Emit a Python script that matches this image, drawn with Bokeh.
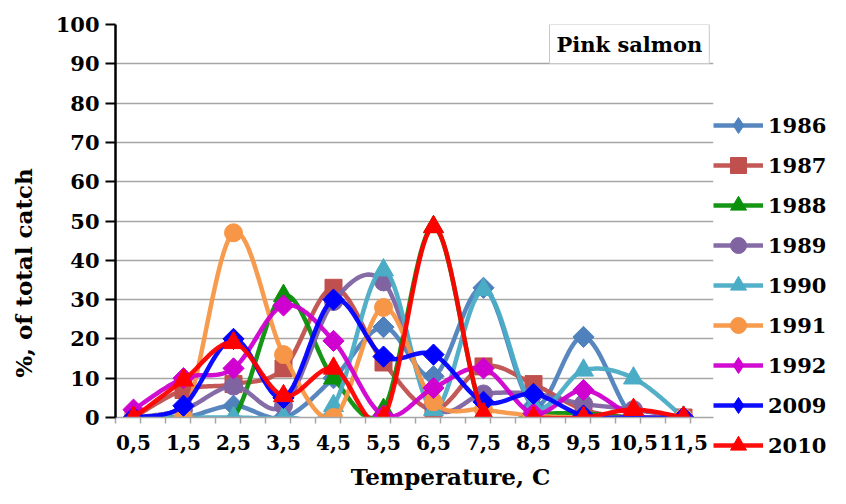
import numpy as np
from bokeh.plotting import figure
from bokeh.models import (Range1d, FixedTicker, Legend, LegendItem, Label)
from bokeh.embed import file_html
from bokeh.resources import INLINE

# ---------------- data ----------------
temperatures = ["0,5", "1,5", "2,5", "3,5", "4,5", "5,5", "6,5", "7,5", "8,5", "9,5", "10,5", "11,5"]
years = ["1986", "1987", "1988", "1989", "1990", "1991", "1992", "2009", "2010"]

y1986 = [0, 0, 3, 0, 10, 23, 10.5, 33, 3, 20.5, 0, 0]
y1987 = [0, 7, 8.5, 12.5, 33, 14, 2, 13, 8.5, 2, 0, 0]
y1988 = [0, 0, 0, 31, 10, 2, 48.5, 1, 1, 1, 0, 0]
y1989 = [0, 2, 8, 3, 29.5, 34.5, 3, 6, 6, 3.5, 2, 0]
y1990 = [0, 0, 0, 0, 3, 37.5, 2, 32.5, 3, 12, 10, 0]
y1991 = [0, 0, 47, 16, 0, 28, 4, 2, 0.5, 0, 0, 0]
y1992 = [2, 10, 12.5, 28.5, 19.5, 0.5, 7.5, 12.5, 1, 7, 0.5, 0]
y2009 = [0, 3, 20, 5, 30, 15.5, 16, 4, 6, 0.5, 0, 0]
y2010 = [0, 9.5, 19, 5.5, 12.5, 0, 48.5, 1, 0, 0, 2, 0]

series = [y1986, y1987, y1988, y1989, y1990, y1991, y1992, y2009, y2010]
colors = ["#4F81BD", "#C0504D", "#0A900A", "#8064A2", "#4BACC6", "#F79646", "#D000D0", "#0000FF", "#FF0000"]
markers = ["diamond", "square", "triangle", "circle", "triangle", "circle", "diamond", "diamond", "triangle"]
msizes = [15, 17, 20, 18, 20, 18, 15, 15, 20]

FONT = "DejaVu Serif"
NB = "\u00a0"


def smooth(xs, ys, n=20):
    pts = np.column_stack([xs, ys]).astype(float)
    out = [pts[0]]
    m = len(pts)
    for i in range(m - 1):
        p0 = pts[i - 1] if i > 0 else pts[i]
        p1 = pts[i]
        p2 = pts[i + 1]
        p3 = pts[i + 2] if i + 2 < m else pts[i + 1]
        c1 = p1 + (p2 - p0) / 6.0
        c2 = p2 - (p3 - p1) / 6.0
        t = np.linspace(0, 1, n + 1)[1:, None]
        seg = ((1 - t) ** 3) * p1 + 3 * ((1 - t) ** 2) * t * c1 + 3 * (1 - t) * t ** 2 * c2 + t ** 3 * p2
        out.extend(seg)
    out = np.array(out)
    return out[:, 0], out[:, 1]


xidx = np.arange(len(temperatures))

p = figure(width=846, height=504, frame_width=598, frame_height=393,
           output_backend="svg", toolbar_location=None,
           x_range=Range1d(-0.36, 11.6), y_range=Range1d(0, 100),
           min_border_left=115, min_border_right=133, min_border_top=24, min_border_bottom=87)
p.extra_y_ranges = {"legend_only": Range1d(1000, 1100)}
p.outline_line_color = None
p.background_fill_color = "white"

# grid
p.xgrid.grid_line_color = None
p.ygrid.grid_line_color = "#A6A6A6"
p.ygrid.grid_line_width = 1.5
p.ygrid.ticker = FixedTicker(ticks=list(range(0, 101, 10)))

# y axis
p.yaxis.ticker = FixedTicker(ticks=list(range(0, 101, 10)))
p.yaxis.axis_line_color = "black"
p.yaxis.axis_line_width = 2.5
p.yaxis.major_tick_line_color = "black"
p.yaxis.major_tick_line_width = 2
p.yaxis.major_tick_out = 10
p.yaxis.major_tick_in = 0
p.yaxis.minor_tick_line_color = None
p.yaxis.major_label_text_font = FONT
p.yaxis.major_label_text_font_style = "bold"
p.yaxis.major_label_text_font_size = "21px"
p.yaxis.major_label_text_color = "black"
p.yaxis.major_label_standoff = 6
p.yaxis.axis_label = "%, of total catch" + NB * 13
p.yaxis.axis_label_text_font = FONT
p.yaxis.axis_label_text_font_style = "bold"
p.yaxis.axis_label_text_font_size = "23px"
p.yaxis.axis_label_text_color = "black"
p.yaxis.axis_label_standoff = 16

# x axis
minor = list(np.round(np.arange(-0.36, 11.61, 0.5), 3))
p.xaxis.ticker = FixedTicker(ticks=list(xidx), minor_ticks=minor)
p.xaxis.major_label_overrides = {int(i): t for i, t in zip(xidx, temperatures)}
p.xaxis.axis_line_color = "#A6A6A6"
p.xaxis.axis_line_width = 1.5
p.xaxis.major_tick_line_color = None
p.xaxis.minor_tick_line_color = "#A6A6A6"
p.xaxis.minor_tick_line_width = 1.5
p.xaxis.minor_tick_out = 6
p.xaxis.minor_tick_in = 0
p.xaxis.major_label_text_font = FONT
p.xaxis.major_label_text_font_style = "bold"
p.xaxis.major_label_text_font_size = "20px"
p.xaxis.major_label_text_color = "black"
p.xaxis.major_label_standoff = 11
p.xaxis.axis_label = NB * 9 + "Temperature, C"
p.xaxis.axis_label_text_font = FONT
p.xaxis.axis_label_text_font_style = "bold"
p.xaxis.axis_label_text_font_size = "23px"
p.xaxis.axis_label_text_color = "black"
p.xaxis.axis_label_standoff = 10

items = []
for yr, ys, c, mk, ms in zip(years, series, colors, markers, msizes):
    sx, sy = smooth(xidx, ys)
    lr = p.line(sx, sy, line_color=c, line_width=4.5, line_alpha=0.95)
    if mk == "diamond":
        # rotated square = Excel-style diamond in the plot
        p.scatter(xidx, ys, marker="square", angle=np.pi / 4, size=ms, fill_color=c, line_color=c)
        # diamond marker used only for the legend swatch (its range puts it off-frame)
        lg = p.scatter(xidx, ys, marker="diamond", size=24, fill_color=c, line_color=c,
                       y_range_name="legend_only")
        items.append(LegendItem(label=yr, renderers=[lr, lg]))
    else:
        sr = p.scatter(xidx, ys, marker=mk, size=ms, fill_color=c, line_color=c)
        items.append(LegendItem(label=yr, renderers=[lr, sr]))

legend = Legend(items=items, location="top_left", orientation="vertical",
                title=NB, title_text_font_size="20px", title_standoff=58,
                glyph_width=50, glyph_height=40, label_height=40, spacing=0,
                label_standoff=5, padding=0, margin=0, label_width=60,
                border_line_color=None, background_fill_alpha=0,
                label_text_font=FONT, label_text_font_style="bold",
                label_text_font_size="21px", label_text_color="black")
p.add_layout(legend, "right")

# "Pink salmon" box
p.add_layout(Label(x=8.32, y=100, text="Pink salmon", text_font=FONT, text_font_style="bold",
                   text_font_size="21px", text_color="black", text_align="left", text_baseline="top",
                   background_fill_color="white", border_line_color="#C8C8C8", border_line_width=1,
                   padding=7))

open("out.html", "w").write(file_html(p, INLINE))
